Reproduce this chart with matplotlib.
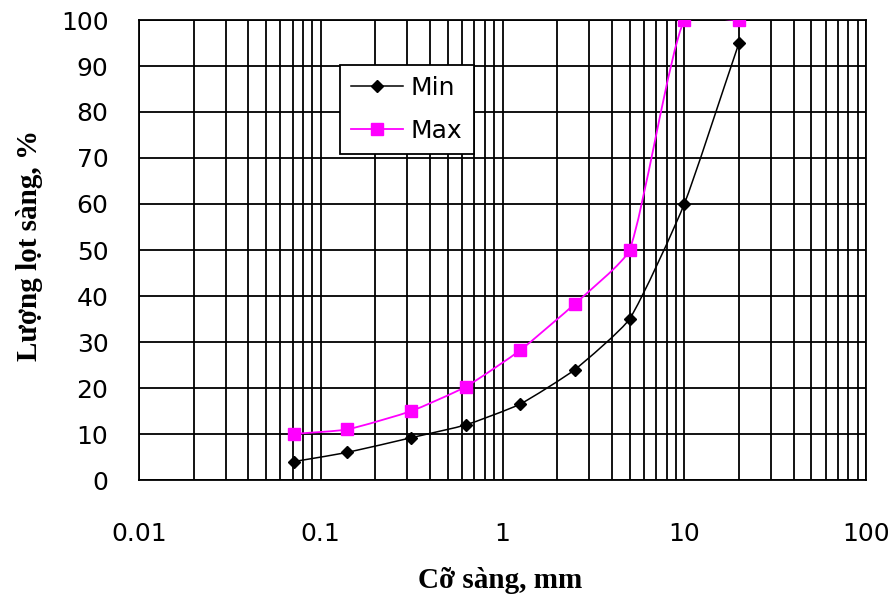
import numpy as np
import matplotlib.pyplot as plt
from matplotlib.path import Path
from matplotlib.patches import PathPatch
from matplotlib.lines import Line2D
from matplotlib.ticker import FixedLocator, NullFormatter

# sieve sizes (mm) and passing percentages
sieve = [0.071, 0.14, 0.315, 0.63, 1.25, 2.5, 5, 10, 20]
min_pass = [4, 6, 9.2, 12, 16.5, 24, 35, 60, 95]
max_pass = [10, 11, 15, 20.3, 28.2, 38.3, 50, 100, 100]
xticks = [0.01, 0.1, 1, 10, 100]
xticklabels = ['0.01', '0.1', '1', '10', '100']

AX_W, AX_H = 727, 460  # axes size in pixels
TENSION = 0.5


def smooth_path(xs, ys):
    # Excel-like smoothed line: bezier segments, tangent lengths weighted by
    # segment length in screen units so big jumps do not overshoot
    u = np.log10(xs) / 4 * AX_W
    v = np.asarray(ys, float) / 100 * AX_H
    pts = np.column_stack([u, v])
    n = len(pts)
    tang = [pts[min(i + 1, n - 1)] - pts[max(i - 1, 0)] for i in range(n)]
    seg = [np.hypot(*(pts[i + 1] - pts[i])) for i in range(n - 1)]
    verts = [tuple(pts[0])]
    codes = [Path.MOVETO]
    for i in range(n - 1):
        d = seg[i]
        if i > 0:
            c1 = pts[i] + tang[i] * (d / (seg[i - 1] + d)) / 3 * TENSION
        else:
            c1 = pts[i] + (pts[i + 1] - pts[i]) / 3
        if i < n - 2:
            c2 = pts[i + 1] - tang[i + 1] * (d / (d + seg[i + 1])) / 3 * TENSION
        else:
            c2 = pts[i + 1] - (pts[i + 1] - pts[i]) / 3
        verts += [tuple(c1), tuple(c2), tuple(pts[i + 1])]
        codes += [Path.CURVE4] * 3
    verts = [(10 ** (a / AX_W * 4), b / AX_H * 100) for a, b in verts]
    return Path(verts, codes)


fig = plt.figure(figsize=(8.92, 5.98), dpi=100)
ax = fig.add_axes([139 / 892, 1 - 480 / 598, AX_W / 892, AX_H / 598])

ax.add_patch(PathPatch(smooth_path(sieve, min_pass), fill=False, ec='black', lw=1.1, zorder=3))
ax.add_patch(PathPatch(smooth_path(sieve, max_pass), fill=False, ec='#ff00ff', lw=1.3, zorder=3))
ax.plot(sieve, min_pass, ls='none', color='black', marker='D', ms=6.5, zorder=4)
ax.plot(sieve, max_pass, ls='none', color='#ff00ff', marker='s', ms=8.5, zorder=4)

ax.set_xscale('log')
ax.set_xlim(0.01, 100)
ax.set_ylim(0, 100)
ax.set_yticks(range(0, 101, 10))
ax.xaxis.set_major_locator(FixedLocator(xticks))
ax.set_xticklabels(xticklabels)
minor = [m * d for d in [0.01, 0.1, 1, 10] for m in range(2, 10)]
ax.xaxis.set_minor_locator(FixedLocator(minor))
ax.xaxis.set_minor_formatter(NullFormatter())

ax.grid(True, which='both', axis='x', color='black', lw=1.3)
ax.grid(True, which='major', axis='y', color='black', lw=1.3)
for s in ax.spines.values():
    s.set_color('black')
    s.set_linewidth(1.3)

ax.tick_params(axis='both', which='both', length=0, labelsize=18)
ax.tick_params(axis='x', pad=30)
ax.tick_params(axis='y', pad=22)

handles = [Line2D([], [], color='black', lw=1.1, marker='D', ms=6.5),
           Line2D([], [], color='#ff00ff', lw=1.3, marker='s', ms=8.5)]
leg = ax.legend(handles, ['Min', 'Max'], loc='upper left', bbox_to_anchor=(0.276, 0.903),
                fontsize=18, fancybox=False, framealpha=1, edgecolor='black',
                handlelength=2.1, handletextpad=0.3, borderpad=0.45, labelspacing=0.75,
                borderaxespad=0)
leg.get_frame().set_linewidth(1.3)

fig.text(500 / 892, 1 - 580 / 598, 'Cỡ sàng, mm', ha='center', va='center',
         fontsize=21, fontweight='bold', family='Liberation Serif')
fig.text(30 / 892, 1 - 245 / 598, 'Lượng lọt sàng, %', ha='center', va='center',
         rotation=90, fontsize=21, fontweight='bold', family='Liberation Serif')

fig.savefig('out.png', dpi=100)
